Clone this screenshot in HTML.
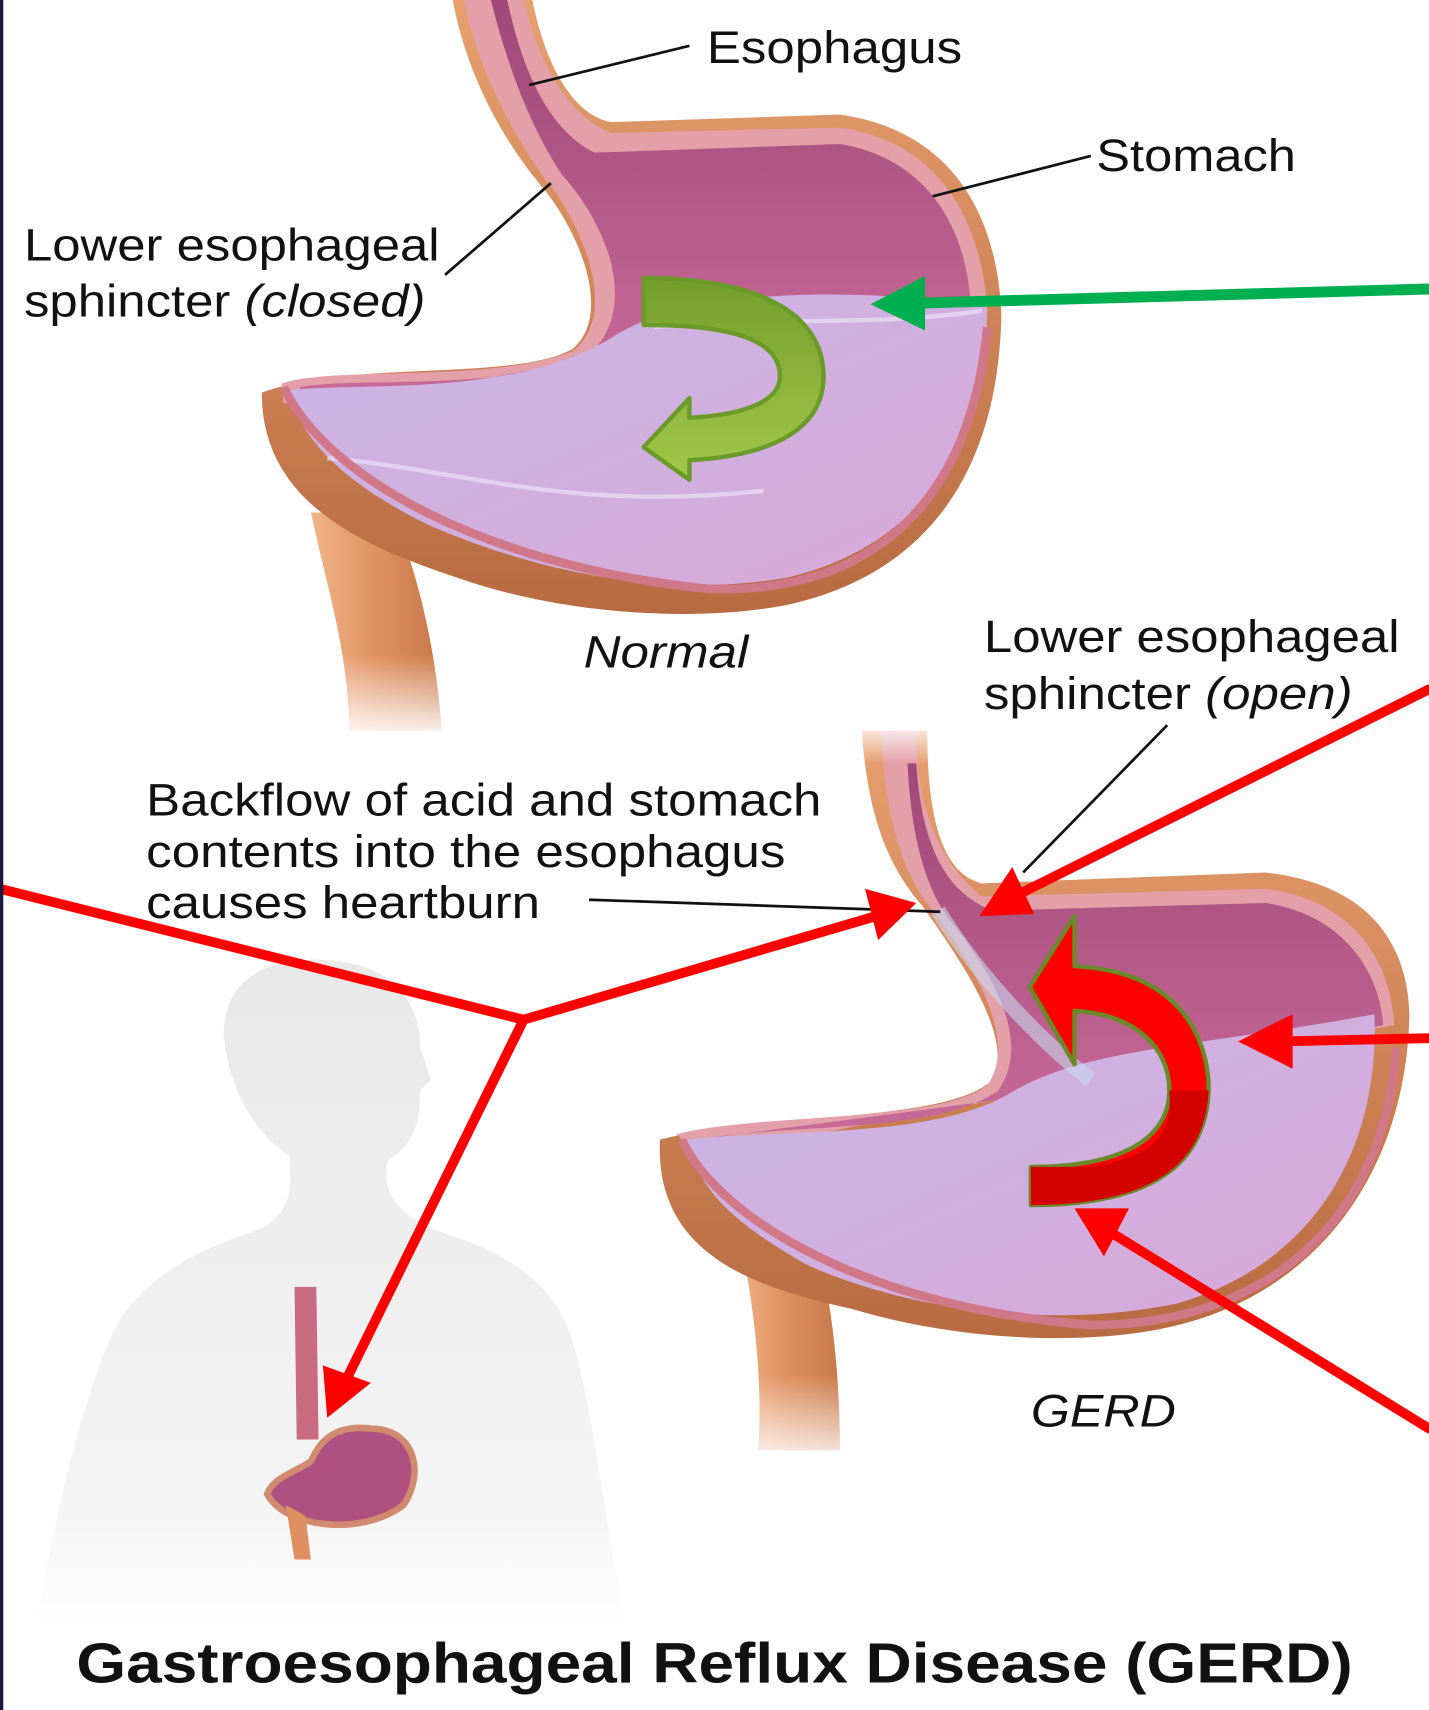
<!DOCTYPE html>
<html><head><meta charset="utf-8"><style>
html,body{margin:0;padding:0;background:#fff;}
svg{display:block;}
text{font-family:"Liberation Sans",sans-serif;fill:#111;}
</style></head><body>
<svg width="1429" height="1710" viewBox="0 0 1310 1568" preserveAspectRatio="none" xmlns="http://www.w3.org/2000/svg">
<defs>
<linearGradient id="org" x1="0" y1="0" x2="0" y2="1"><stop offset="0" stop-color="#e8a070"/><stop offset="1" stop-color="#b86a40"/></linearGradient>
<linearGradient id="duo" x1="0" y1="0" x2="1" y2="0"><stop offset="0" stop-color="#f0b58a"/><stop offset="0.5" stop-color="#e09060"/><stop offset="1" stop-color="#c87848"/></linearGradient>
<linearGradient id="cav" x1="0" y1="0" x2="0" y2="1"><stop offset="0" stop-color="#a04878"/><stop offset="1" stop-color="#c86a98"/></linearGradient>
<linearGradient id="fl" x1="0" y1="0" x2="1" y2="1"><stop offset="0" stop-color="#c9b6e6"/><stop offset="1" stop-color="#d8a8d8"/></linearGradient>
<linearGradient id="fadeD" x1="0" y1="0" x2="0" y2="1"><stop offset="0" stop-color="#fff" stop-opacity="0"/><stop offset="1" stop-color="#fff" stop-opacity="1"/></linearGradient>
<linearGradient id="body" x1="0" y1="0" x2="0" y2="1"><stop offset="0" stop-color="#e4e4e4"/><stop offset="0.8" stop-color="#f2f2f2"/><stop offset="1" stop-color="#fff"/></linearGradient>
<linearGradient id="grn" x1="0" y1="0" x2="0" y2="1"><stop offset="0" stop-color="#739e2c"/><stop offset="1" stop-color="#a2c848"/></linearGradient>
</defs>
<rect width="1310" height="1568" fill="#fff"/>

<path d="M285 470 C300 540 320 600 320 670 L405 670 C400 600 385 530 360 470 Z" fill="url(#duo)"/>
<path d="M240 360 C240 460 330 500 420 530 C520 565 640 570 720 555 C860 525 915 420 918 290 C915 200 875 120 770 105 L560 112 C525 105 500 60 488 0 L415 0 C430 80 470 140 500 175 C535 220 560 290 525 320 C470 350 320 330 240 360 Z" fill="url(#org)"/>
<path d="M258 352 C300 335 450 352 525 322 C565 290 540 220 505 170 L500 165 C475 130 440 70 425 0 L480 0 C495 60 520 105 560 122 L770 117 C860 130 900 200 905 285 C900 300 880 300 860 305 L260 370 Z" fill="#e3a0a8"/>
<path d="M275 355 C330 345 460 360 540 325 C585 285 560 210 515 160 C495 130 470 80 450 0 L465 0 C480 70 505 120 545 140 L770 132 C850 145 888 210 890 285 L600 300 C560 330 420 360 275 360 Z" fill="url(#cav)"/>
<path d="M265 358 C330 350 470 365 560 310 C620 270 750 260 905 280 C905 400 850 500 720 530 C600 550 480 520 390 480 C310 440 275 400 265 358 Z" fill="url(#fl)"/>
<path d="M300 420 C420 430 520 470 700 450 M600 300 C700 290 800 300 900 285" stroke="#e9e0f8" stroke-width="4" fill="none" opacity="0.7"/>
<path d="M260 355 C300 440 450 520 650 540 C800 545 890 460 905 300" stroke="#d07888" stroke-width="8" fill="none"/>
<rect x="250" y="600" width="200" height="80" fill="url(#fadeD)"/>

<path d="M670 1100 C690 1180 700 1260 695 1330 L770 1330 C770 1250 760 1170 740 1110 Z" fill="url(#duo)"/>
<path d="M605 1045 C600 1150 690 1180 780 1200 C880 1230 1000 1235 1080 1215 C1220 1180 1290 1060 1292 930 C1290 860 1250 810 1160 800 L900 810 C860 800 850 740 850 670 L790 670 C795 740 810 790 845 830 C880 880 930 950 910 990 C870 1030 700 1020 605 1045 Z" fill="url(#org)"/>
<path d="M620 1040 C700 1020 860 1030 905 995 C935 955 890 880 855 835 C825 800 810 740 808 670 L840 670 C840 740 860 790 900 822 L1160 815 C1240 825 1275 880 1278 940 L640 1060 Z" fill="#e3a0a8"/>
<path d="M640 1045 C720 1030 860 1040 915 1000 C950 950 900 880 868 840 C850 815 835 770 832 700 L840 700 C845 780 870 820 910 835 L1160 828 C1230 838 1265 890 1268 940 L980 1000 Z" fill="url(#cav)"/>
<path d="M630 1045 C720 1035 860 1045 930 1000 C1000 960 1100 960 1260 930 C1265 1060 1200 1160 1080 1195 C960 1220 830 1200 740 1160 C670 1120 640 1090 630 1045 Z" fill="url(#fl)"/>
<path d="M860 835 C900 900 960 960 1000 990" stroke="#c8d8f0" stroke-width="14" fill="none" opacity="0.6"/>
<path d="M625 1045 C660 1120 800 1200 1000 1215 C1160 1215 1270 1120 1280 960" stroke="#d07888" stroke-width="8" fill="none"/>
<rect x="640" y="1260" width="200" height="90" fill="url(#fadeD)"/>
<rect x="770" y="660" width="110" height="40" fill="url(#fadeD)" transform="rotate(180 825 680)"/>

<path d="M30 1500 C50 1400 70 1300 100 1230 C120 1180 170 1150 230 1130 C260 1120 270 1100 265 1060 C235 1040 210 1000 205 950 C205 900 240 880 290 880 C350 880 385 910 385 960 L395 990 L385 1000 C385 1040 375 1050 355 1065 C350 1095 365 1115 405 1130 C470 1150 510 1180 525 1230 C545 1300 555 1400 575 1500 Z" fill="url(#body)" opacity="0.85"/>
<path d="M270 1180 L290 1180 L292 1320 L272 1320 Z" fill="#c86a80"/>
<path d="M245 1370 C260 1400 330 1410 370 1380 C390 1350 380 1310 340 1310 C300 1305 290 1330 285 1340 C270 1350 250 1355 245 1370 Z" fill="#b05080" stroke="#d08a70" stroke-width="6"/>
<path d="M262 1380 L270 1430 L285 1430 L280 1390 Z" fill="#e09060"/>
<rect x="0" y="1440" width="620" height="80" fill="url(#fadeD)"/>

<path d="M590 255 C700 255 755 290 755 345 C755 392 710 418 632 422 L632 440 L590 410 L632 365 L632 383 C690 380 715 365 715 345 C715 315 680 298 590 298 Z" fill="url(#grn)" stroke="#6a9a2a" stroke-width="4" stroke-linejoin="round"/>
<path d="M985 886 C1075 890 1108 945 1108 1000 C1105 1065 1060 1105 945 1105 L945 1070 C1035 1070 1072 1040 1072 1000 C1072 960 1040 930 985 927 L985 976 L944 905 L985 840 Z" fill="#ff0000" stroke="#6a8a2a" stroke-width="4" stroke-linejoin="round"/>
<path d="M1000 1070 C1060 1060 1075 1040 1072 1000 L1108 1000 C1105 1065 1060 1105 945 1105 L945 1070 Z" fill="#d40000"/>

<g stroke="#111" stroke-width="2.5">
<line x1="485" y1="78" x2="632" y2="42"/>
<line x1="855" y1="180" x2="1000" y2="143"/>
<line x1="408" y1="252" x2="505" y2="168"/>
<line x1="938" y1="800" x2="1070" y2="665"/>
<line x1="540" y1="825" x2="862" y2="836"/>
</g>

<g stroke="#ff0000" stroke-width="9" fill="none" stroke-linecap="round">
<polyline points="0,815 480,935 810,838"/>
<line x1="480" y1="935" x2="315" y2="1270"/>
<line x1="1310" y1="632" x2="930" y2="822"/>
<line x1="1310" y1="952" x2="1170" y2="955"/>
<line x1="1310" y1="1310" x2="1015" y2="1128"/>
</g>
<g fill="#ff0000">
<polygon points="840,828 793,815 805,862"/>
<polygon points="300,1300 296,1252 340,1268"/>
<polygon points="898,840 928,795 948,838"/>
<polygon points="1135,955 1185,930 1185,980"/>
<polygon points="985,1108 1035,1108 1012,1152"/>
</g>
<line x1="1310" y1="265" x2="840" y2="278" stroke="#00b050" stroke-width="10"/>
<polygon points="798,279 848,253 848,303" fill="#00b050"/>

<g font-size="42">
<text x="648" y="58" textLength="234" lengthAdjust="spacingAndGlyphs">Esophagus</text>
<text x="1005" y="157" textLength="183" lengthAdjust="spacingAndGlyphs">Stomach</text>
<text x="22" y="239" textLength="381" lengthAdjust="spacingAndGlyphs">Lower esophageal</text>
<text x="22" y="290" textLength="368" lengthAdjust="spacingAndGlyphs">sphincter <tspan font-style="italic">(closed)</tspan></text>
<text x="535" y="612" font-style="italic" textLength="151" lengthAdjust="spacingAndGlyphs">Normal</text>
<text x="902" y="598" textLength="381" lengthAdjust="spacingAndGlyphs">Lower esophageal</text>
<text x="902" y="650" textLength="338" lengthAdjust="spacingAndGlyphs">sphincter <tspan font-style="italic">(open)</tspan></text>
<text x="134" y="748" textLength="619" lengthAdjust="spacingAndGlyphs">Backflow of acid and stomach</text>
<text x="134" y="795" textLength="586" lengthAdjust="spacingAndGlyphs">contents into the esophagus</text>
<text x="134" y="842" textLength="361" lengthAdjust="spacingAndGlyphs">causes heartburn</text>
<text x="945" y="1308" font-style="italic" textLength="133" lengthAdjust="spacingAndGlyphs">GERD</text>
</g>
<text x="70" y="1543" font-size="52" font-weight="bold" textLength="1170" lengthAdjust="spacingAndGlyphs">Gastroesophageal Reflux Disease (GERD)</text>

<rect x="0" y="0" width="3" height="1568" fill="#1a1a40"/>
</svg>
</body></html>
